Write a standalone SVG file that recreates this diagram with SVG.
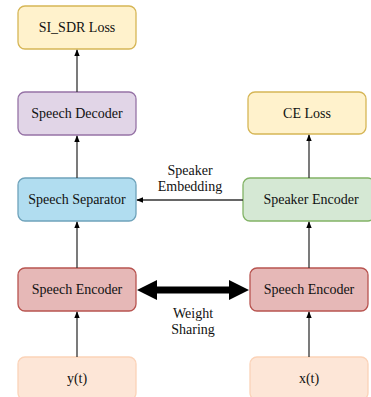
<svg xmlns="http://www.w3.org/2000/svg" width="371" height="397" viewBox="0 0 371 397">
<defs>
<marker id="ah" viewBox="0 0 10 10" refX="9" refY="5" markerWidth="7" markerHeight="7" orient="auto-start-reverse" markerUnits="userSpaceOnUse"><path d="M0,1 L10,5 L0,9 Z" fill="#000"/></marker>
</defs>
<style>
text{font-size:14px;fill:#111;text-anchor:middle;dominant-baseline:central}
.n{stroke-width:1.3}
.c{stroke:#333;stroke-width:1.3;fill:none}
</style>
<rect width="371" height="397" fill="#fff"/>
<g font-family="'Liberation Serif', 'Times New Roman', 'DejaVu Serif', serif">
<g id="sisdr"><rect class="n" x="18" y="6" width="118" height="43" rx="7" fill="#fff2cc" stroke="#d6b656"/><text x="77" y="27.5">SI_SDR Loss</text></g>
<g id="decoder"><rect class="n" x="18" y="92" width="118" height="43" rx="7" fill="#e1d5e7" stroke="#9673a6"/><text x="77" y="113.5">Speech Decoder</text></g>
<g id="separator"><rect class="n" x="18" y="178" width="118" height="43" rx="7" fill="#b1ddf0" stroke="#6fa3bb"/><text x="77" y="199.5">Speech Separator</text></g>
<g id="encL"><rect class="n" x="18" y="268" width="118" height="43" rx="7" fill="#e6b8b7" stroke="#b85450"/><text x="77" y="289.5">Speech Encoder</text></g>
<g id="yt"><rect class="n" x="18" y="357" width="118" height="43" rx="7" fill="#fde6d7" stroke="#fbd3b8"/><text x="77" y="378">y(t)</text></g>
<g id="celoss"><rect class="n" x="248" y="92" width="118" height="42" rx="7" fill="#fff2cc" stroke="#d6b656"/><text x="307" y="113">CE Loss</text></g>
<g id="spkenc"><rect class="n" x="243" y="178" width="132" height="43" rx="7" fill="#d5e8d4" stroke="#82b366"/><text x="311" y="199.5">Speaker Encoder</text></g>
<g id="encR"><rect class="n" x="250" y="268" width="118" height="43" rx="7" fill="#e6b8b7" stroke="#b85450"/><text x="309" y="289.5">Speech Encoder</text></g>
<g id="xt"><rect class="n" x="250" y="357" width="118" height="43" rx="7" fill="#fde6d7" stroke="#fbd3b8"/><text x="309" y="378">x(t)</text></g>
<g id="connectors">
<line class="c" x1="77" y1="92" x2="77" y2="50" marker-end="url(#ah)"/>
<line class="c" x1="77" y1="178" x2="77" y2="136" marker-end="url(#ah)"/>
<line class="c" x1="77" y1="268" x2="77" y2="222" marker-end="url(#ah)"/>
<line class="c" x1="77" y1="357" x2="77" y2="312" marker-end="url(#ah)"/>
<line class="c" x1="309" y1="178" x2="309" y2="135" marker-end="url(#ah)"/>
<line class="c" x1="309" y1="268" x2="309" y2="222" marker-end="url(#ah)"/>
<line class="c" x1="309" y1="357" x2="309" y2="312" marker-end="url(#ah)"/>
<line class="c" x1="243" y1="200" x2="137" y2="200" marker-end="url(#ah)"/>
<path d="M137,290 L157,280 L157,286.5 L229,286.5 L229,280 L249,290 L229,300 L229,293.5 L157,293.5 L157,300 Z" fill="#000"/>
<text x="190" y="170">Speaker</text>
<text x="190" y="186">Embedding</text>
<text x="193" y="313">Weight</text>
<text x="193" y="329">Sharing</text>
</g>
</g>
</svg>
